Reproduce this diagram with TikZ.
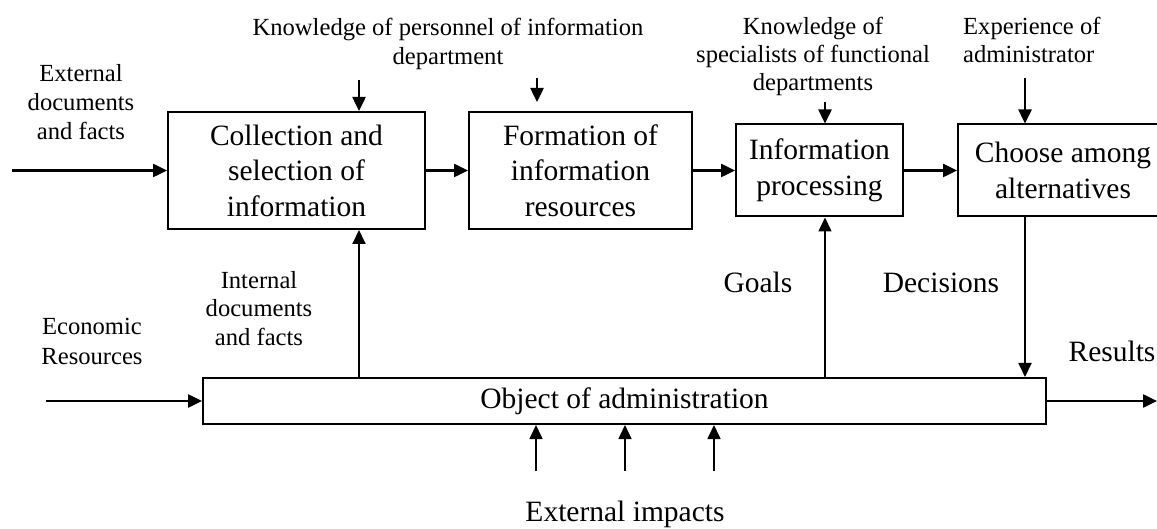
\documentclass[tikz,border=0pt]{standalone}
\usepackage{fontspec}
\setmainfont{Liberation Serif}
\usetikzlibrary{arrows.meta}
\newcommand{\bigtxt}{\fontsize{29.5}{35.5}\selectfont}
\newcommand{\smalltxt}{\fontsize{24.6}{29}\selectfont}

\begin{document}
\begin{tikzpicture}[x=1pt,y=-1pt,
    block/.style={draw,line width=2pt,rectangle,inner sep=0pt,align=center,font=\bigtxt},
    lbl/.style={inner sep=0pt,align=center,font=\smalltxt,anchor=base},
    biglbl/.style={inner sep=0pt,font=\bigtxt,anchor=base},
    flow/.style={line width=2.5pt,-{Triangle[length=14pt,width=13pt]}},
    thinflow/.style={line width=1.6pt,-{Triangle[length=14pt,width=13pt]}}]
  \useasboundingbox (0,0) rectangle (1157,529);
  % boxes
  \node[block,minimum width=257pt,minimum height=117pt] (coll) at (296.5,170.5) {Collection and\\selection of\\information};
  \node[block,minimum width=223pt,minimum height=117pt] (form) at (580.5,170.5) {Formation of\\information\\resources};
  \node[block,minimum width=167pt,minimum height=92pt] (proc) at (819.5,170.5) {Information\\processing};
  \node[block,minimum width=210pt,minimum height=92pt] (choose) at (1063,170.5) {Choose among\\alternatives};
  \node[block,minimum width=843pt,minimum height=46pt] (obj) at (624.5,401) {Object of administration};
  % labels (base = last line)
  \node[lbl] (know1) at (448,65) {Knowledge of personnel of information\\department};
  \node[lbl] (extdoc) at (81,140) {External\\documents\\and facts};
  \node[lbl] (know2) at (813,91) {Knowledge of\\[-1pt]specialists of functional\\[-1pt]departments};
  \node[lbl,align=left,anchor=base west] (exper) at (963,63) {Experience of\\[-1pt]administrator};
  \node[lbl] (econres) at (92,364) {Economic\\Resources};
  \node[lbl] (intdoc) at (259,346) {Internal\\documents\\and facts};
  \node[biglbl] (goals) at (758,293) {Goals};
  \node[biglbl] (decis) at (941,293) {Decisions};
  \node[biglbl] (results) at (1112,362) {Results};
  \node[biglbl] (impacts) at (625,521) {External impacts};
  % free ends
  \coordinate (extin) at (12,170.5);
  \coordinate (k1) at (359,80);
  \coordinate (k2) at (537,78);
  \coordinate (k2e) at (537,102);
  \coordinate (k3) at (825,102);
  \coordinate (k4) at (1025,78);
  \coordinate (econ) at (46,401);
  \coordinate (res) at (1157,401);
  % flows along the chain
  \draw[flow] (extin) -- (coll.west);
  \draw[flow] (coll.east) -- (form.west);
  \draw[flow] (form.east) -- (proc.west);
  \draw[flow] (proc.east) -- (choose.west);
  \draw[flow] (k1) -- (k1 |- coll.north);
  \draw[flow] (k2) -- (k2e);
  \draw[flow] (k3) -- (k3 |- proc.north);
  \draw[flow] (k4) -- (k4 |- choose.north);
  % feedback with the object
  \draw[flow,line width=2pt] (k1 |- obj.north) -- (k1 |- coll.south);
  \draw[thinflow] (k3 |- obj.north) -- (k3 |- proc.south);
  \draw[flow,line width=2pt] (k4 |- choose.south) -- (k4 |- obj.north);
  \draw[flow] (econ) -- (obj.west);
  \draw[flow] (obj.east) -- (res);
  \foreach \x [count=\i] in {536,625,714} {
    \coordinate (imp\i) at (\x,471);
    \draw[thinflow] (imp\i) -- (imp\i |- obj.south);
  }
\end{tikzpicture}
\end{document}
